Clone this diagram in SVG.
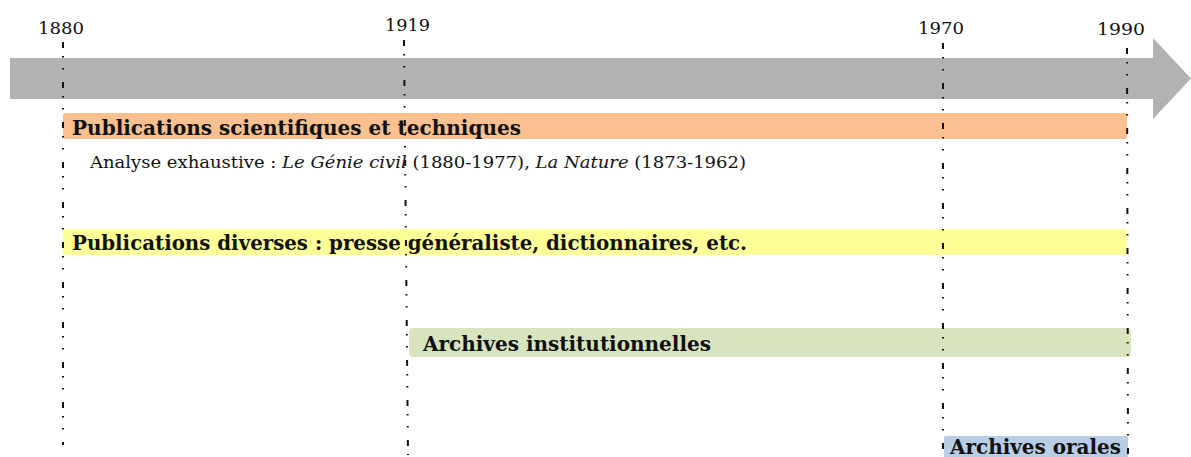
<svg xmlns="http://www.w3.org/2000/svg" width="1191" height="457" viewBox="0 0 1191 457">
<style>
.yr{font-family:"DejaVu Serif","Liberation Serif",serif;font-size:17px;fill:#111}
.lbl{font-family:"DejaVu Serif","Liberation Serif",serif;font-size:21px;font-weight:bold;fill:#111}
.note{font-family:"DejaVu Serif","Liberation Serif",serif;font-size:16px;fill:#111}
.guide{stroke:#111;stroke-width:2;fill:none;stroke-dasharray:6 8 1.5 10.5 1.5 12.5}
</style>
<rect width="1191" height="457" fill="#fff"/>
<g id="axis">
<polygon points="10,58 1153,58 1153,38 1191,78.5 1153,119 1153,99 10,99" fill="#b2b2b2"/>
</g>
<g id="bar-scientifiques">
<rect x="63" y="113" width="1064" height="26" rx="2" fill="#fac090"/>
<text class="lbl" x="72" y="135" textLength="449" lengthAdjust="spacingAndGlyphs">Publications scientifiques et techniques</text>
</g>
<g id="note-analyse">
<text class="note" x="90" y="168" textLength="656" lengthAdjust="spacingAndGlyphs">Analyse exhaustive : <tspan font-style="italic">Le Génie civil</tspan> (1880-1977), <tspan font-style="italic">La Nature</tspan> (1873-1962)</text>
</g>
<g id="bar-diverses">
<rect x="63" y="229" width="1064" height="26" rx="2" fill="#ffff99"/>
<text class="lbl" x="72" y="250" textLength="675" lengthAdjust="spacingAndGlyphs">Publications diverses : presse généraliste, dictionnaires, etc.</text>
</g>
<g id="bar-institutionnelles">
<rect x="409" y="328" width="722" height="29" rx="4" fill="#d7e4bd"/>
<text class="lbl" x="423" y="351" textLength="288" lengthAdjust="spacingAndGlyphs">Archives institutionnelles</text>
</g>
<g id="bar-orales">
<rect x="944" y="436" width="184" height="24" rx="2" fill="#b9cde5"/>
<text class="lbl" x="950" y="454" textLength="171" lengthAdjust="spacingAndGlyphs">Archives orales</text>
</g>
<g id="connectors">
<line class="guide" x1="63" y1="42" x2="63" y2="445"/>
<line class="guide" x1="404" y1="40" x2="408" y2="455"/>
<line class="guide" x1="943" y1="43" x2="943" y2="455"/>
<line class="guide" x1="1127" y1="48" x2="1128" y2="455"/>
</g>
<g id="years">
<text class="yr" x="38" y="34" textLength="46" lengthAdjust="spacingAndGlyphs">1880</text>
<text class="yr" x="385" y="31" textLength="45" lengthAdjust="spacingAndGlyphs">1919</text>
<text class="yr" x="918" y="34" textLength="46" lengthAdjust="spacingAndGlyphs">1970</text>
<text class="yr" x="1097" y="35" textLength="48" lengthAdjust="spacingAndGlyphs">1990</text>
</g>
</svg>
